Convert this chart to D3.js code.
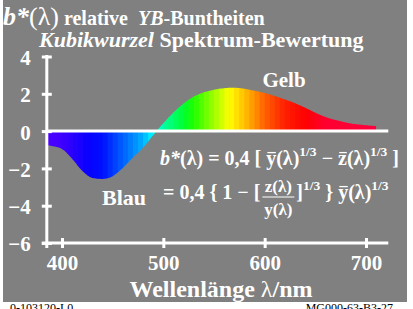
<!DOCTYPE html>
<html><head><meta charset="utf-8">
<script src="https://cdn.jsdelivr.net/npm/d3@7"></script>
<style>
body{margin:0;background:#fff}
svg{display:block}
text{font-family:"Liberation Serif","Times New Roman",serif;fill:#fff;white-space:pre}
</style>
</head><body>
<svg id="c" width="413" height="309"></svg>
<script>
// ---- data ----
const wavelengths = [385,390,400,410,420,430,440,450,460,470,480,490,500,510,520,530,540,550,560,570,580,590,600,610,620,630,640,650,660,670,680,690,700,710];
const bValues     = [-0.75,-0.80,-0.96,-1.48,-2.13,-2.52,-2.57,-2.42,-1.98,-1.42,-0.88,-0.22,0.42,1.00,1.48,1.85,2.08,2.22,2.30,2.32,2.27,2.16,2.04,1.88,1.70,1.50,1.25,0.98,0.76,0.59,0.46,0.37,0.31,0.27];
const colorStops  = [380,400,425,440,460,480,490,500,520,530,550,565,580,600,620,640,660,720];
const stopColors  = ["#5000ff","#4000ff","#0800ff","#0010ff","#0060ff","#00b0ff","#00ffff","#00ffa0","#00ff30","#20ff00","#a0ff00","#ffff00","#ffc000","#ff6000","#ff2000","#ff0000","#ff0030","#ff0040"];
const yTicks = [-6,-4,-2,0,2,4];
const xTicks = [400,500,600,700];
const axisRange = [385,722];

const svg = d3.select("#c");
const x = d3.scaleLinear().domain([400,700]).range([62,366]);
const y = d3.scaleLinear().domain([-6,4]).range([243,56.5]);
const col = d3.scaleLinear().domain(colorStops).range(stopColors);

svg.append("rect").attr("x",3).attr("y",0).attr("width",404).attr("height",302).attr("fill","#808080");

const data = wavelengths.map((w,i)=>({w, v:bValues[i]}));
const area = d3.area().x(d=>x(d.w)).y0(y(0)).y1(d=>y(d.v)).curve(d3.curveMonotoneX);
svg.append("clipPath").attr("id","cp").append("path").attr("d",area(data));

const stripes = d3.range(wavelengths[0], wavelengths[wavelengths.length-1], 5);
svg.append("g").attr("clip-path","url(#cp)").selectAll("rect").data(stripes).join("rect")
  .attr("x",d=>x(d)).attr("width",d=>x(d+5)-x(d)+0.6)
  .attr("y",y(3)).attr("height",y(-3)-y(3))
  .attr("fill",d=>col(d+2.5));

// zero line
svg.append("line").attr("x1",x(axisRange[0])).attr("x2",x(axisRange[1])).attr("y1",y(0)).attr("y2",y(0))
  .attr("stroke","#fff").attr("stroke-width",3);

// y axis
const ya = svg.append("g").attr("transform",`translate(${x(axisRange[0])},0)`)
  .call(d3.axisLeft(y).tickValues(yTicks).tickSize(0).tickPadding(16));
ya.select(".domain").remove();
ya.selectAll(".tick line").attr("x1",-5).attr("x2",5).attr("stroke","#fff").attr("stroke-width",3);
ya.selectAll(".tick text").attr("fill","#fff").attr("font-size",21).attr("font-weight","bold")
  .attr("font-family","Liberation Serif").attr("dy","0.38em");
svg.append("line").attr("x1",x(axisRange[0])).attr("x2",x(axisRange[0])).attr("y1",y(4)-1.5).attr("y2",y(-6)+5)
  .attr("stroke","#fff").attr("stroke-width",3);

// x axis
const xa = svg.append("g").attr("transform",`translate(0,${y(-6)})`)
  .call(d3.axisBottom(x).tickValues(xTicks).tickSize(0).tickPadding(12));
xa.select(".domain").remove();
xa.selectAll(".tick line").attr("y1",-5).attr("y2",5).attr("stroke","#fff").attr("stroke-width",3);
xa.selectAll(".tick text").attr("fill","#fff").attr("font-size",21).attr("font-weight","bold")
  .attr("font-family","Liberation Serif");
svg.append("line").attr("x1",x(axisRange[0])-5).attr("x2",x(axisRange[1])).attr("y1",y(-6)).attr("y2",y(-6))
  .attr("stroke","#fff").attr("stroke-width",3);

// rich text helper
function rich(x0, y0, segs, anchor){
  const g = svg.append("g");
  let cx = 0;
  segs.forEach(s=>{
    if (s.gap){ cx += s.gap; return; }
    const t = g.append("text").attr("x",cx).attr("y",(s.dy||0))
      .attr("font-size",s.size||18).attr("font-weight",s.w||"bold").attr("font-style",s.it?"italic":"normal")
      .text(s.t);
    const len = t.node().getComputedTextLength();
    if (s.over){
      const sz = s.size||18;
      g.append("line").attr("x1",cx+sz*0.06).attr("x2",cx+sz*0.06+s.overLen*sz).attr("y1",(s.dy||0)-sz*0.62).attr("y2",(s.dy||0)-sz*0.62)
        .attr("stroke","#fff").attr("stroke-width",1.3);
    }
    cx += len;
  });
  const off = anchor==="middle" ? -cx/2 : anchor==="end" ? -cx : 0;
  g.attr("transform",`translate(${x0+off},${y0})`);
  return g;
}

// titles
rich(3,25,[{t:"b*",size:26,it:true},{t:"(λ)",size:26,w:"normal"},{t:" relative  ",size:20},{t:"YB",size:20,it:true},{t:"-Buntheiten",size:20}]);
rich(39,47,[{t:"Kubikwurzel",size:22,it:true},{t:" Spektrum-Bewertung",size:22}]);

// axis title
rich(221,297,[{t:"Wellenlänge ",size:24},{t:"λ",size:24,w:"normal"},{t:"/nm",size:24}],"middle");

// labels
svg.append("text").attr("x",284).attr("y",87).attr("text-anchor","middle").attr("font-size",21).attr("font-weight","bold").text("Gelb");
svg.append("text").attr("x",124).attr("y",205).attr("text-anchor","middle").attr("font-size",22).attr("font-weight","bold").text("Blau");

// formula
const fs = 20, sup = 13.5, sdy = -9;
rich(160,165,[
  {t:"b*",size:fs,it:true},{t:"(λ) = 0,4 [ ",size:fs},
  {t:"y",size:fs,over:true,overLen:0.42},{t:"(λ)",size:fs},{t:"1/3",size:sup,dy:sdy},
  {t:" − ",size:fs},
  {t:"z",size:fs,over:true,overLen:0.38},{t:"(λ)",size:fs},{t:"1/3",size:sup,dy:sdy},
  {t:" ]",size:fs}
]);
const pre = "= 0,4 { 1 − [";
rich(163,199,[
  {t:pre,size:fs},{gap:36},{t:"]",size:fs},{t:"1/3",size:sup,dy:sdy},
  {t:" } ",size:fs},{t:"y",size:fs,over:true,overLen:0.42},{t:"(λ)",size:fs},{t:"1/3",size:sup,dy:sdy}
]);
// fraction
const tmp = svg.append("text").attr("font-size",fs).attr("font-weight","bold").text(pre);
const fx = 163 + tmp.node().getComputedTextLength(); tmp.remove();
svg.append("text").attr("x",fx+18).attr("y",192).attr("text-anchor","middle").attr("font-size",17).attr("font-weight","bold").text("z(λ)");
svg.append("text").attr("x",fx+18).attr("y",215).attr("text-anchor","middle").attr("font-size",17).attr("font-weight","bold").text("y(λ)");
svg.append("line").attr("x1",fx+2).attr("x2",fx+34).attr("y1",197).attr("y2",197).attr("stroke","#fff").attr("stroke-width",1);

// footer
svg.append("text").attr("x",10).attr("y",312).attr("font-size",12).style("fill","#000").text("0-103120-L0");
svg.append("text").attr("x",393).attr("y",312).attr("text-anchor","end").attr("font-size",12).style("fill","#000").text("MG000-63-B3-27");
</script>
</body></html>
